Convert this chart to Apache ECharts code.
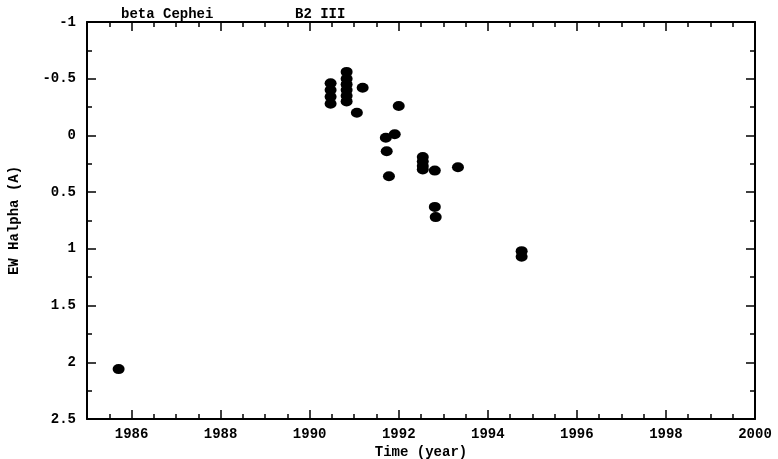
<!DOCTYPE html>
<html>
<head>
<meta charset="utf-8">
<script src="https://cdn.jsdelivr.net/npm/echarts@6/dist/echarts.min.js"></script>
<style>
  html, body { margin: 0; padding: 0; background: #fff; }
  #chart { width: 778px; height: 459px; }
</style>
</head>
<body>
<div id="chart"></div>
<script>
// observation epochs (year) and Halpha equivalent width (A)
const years = [
  1985.71,
  1990.47, 1990.47, 1990.47, 1990.47,
  1990.83, 1990.83, 1990.83, 1990.83, 1990.83, 1990.83,
  1991.06, 1991.19,
  1991.71, 1991.91, 1991.73, 1991.78, 1992.0,
  1992.54, 1992.54, 1992.54, 1992.54,
  1992.81, 1993.33, 1992.81, 1992.83,
  1994.76, 1994.76,
]
const ewHalpha = [
  2.06,
  -0.46, -0.40, -0.34, -0.28,
  -0.56, -0.50, -0.45, -0.40, -0.35, -0.30,
  -0.20, -0.42,
  0.02, -0.01, 0.14, 0.36, -0.26,
  0.19, 0.23, 0.27, 0.30,
  0.31, 0.28, 0.63, 0.72,
  1.02, 1.07,
]
const yearLabels = [1986, 1988, 1990, 1992, 1994, 1996, 1998, 2000]

const font = 'Liberation Mono'
const points = years.map((y, i) => [y, ewHalpha[i]])

const xBase = {
  type: 'value', min: 1985, max: 2000, interval: 0.5,
  splitLine: { show: false },
  axisLine: { onZero: false, lineStyle: { color: '#000', width: 2 } },
}
const yBase = {
  type: 'value', min: -1, max: 2.5, inverse: true,
  splitLine: { show: false },
  axisLine: { onZero: false, lineStyle: { color: '#000', width: 2 } },
}
const noLine = { show: false, onZero: false }
const txt = { fontFamily: font, fontSize: 14, fontWeight: 'bold', color: '#000' }

const option = {
  animation: false,
  backgroundColor: '#fff',
  title: [
    { text: 'beta Cephei', left: 116, top: 2, textStyle: txt },
    { text: 'B2 III', left: 290, top: 2, textStyle: txt },
  ],
  grid: { left: 87, right: 23, top: 22, bottom: 40, containLabel: false, outerBoundsMode: 'none' },
  xAxis: [
    {
      ...xBase, position: 'bottom',
      name: 'Time (year)', nameLocation: 'middle', nameGap: 25,
      nameTextStyle: txt,
      axisTick: { inside: true, length: 5, lineStyle: { color: '#000', width: 1.5 } },
      axisLabel: {
        margin: 8, ...txt,
        formatter: v => (yearLabels.includes(v) ? String(v) : ''),
      },
    },
    {
      ...xBase, position: 'bottom',
      axisLine: noLine,
      axisTick: { inside: true, length: 9, customValues: yearLabels, lineStyle: { color: '#000', width: 1.5 } },
      axisLabel: { show: false },
    },
    {
      ...xBase, position: 'top',
      axisTick: { inside: true, length: 5, lineStyle: { color: '#000', width: 1.5 } },
      axisLabel: { show: false },
    },
    {
      ...xBase, position: 'top',
      axisLine: noLine,
      axisTick: { inside: true, length: 9, customValues: yearLabels, lineStyle: { color: '#000', width: 1.5 } },
      axisLabel: { show: false },
    },
  ],
  yAxis: [
    {
      ...yBase, position: 'left', interval: 0.25,
      name: 'EW Halpha (A)', nameLocation: 'middle', nameGap: 66, nameRotate: 90,
      nameTextStyle: txt,
      axisTick: { inside: true, length: 5, lineStyle: { color: '#000', width: 1.5 } },
      axisLabel: {
        margin: 11, ...txt,
        formatter: v => (Math.abs(v * 2 - Math.round(v * 2)) < 1e-9 ? String(v) : ''),
      },
    },
    {
      ...yBase, position: 'left', interval: 0.5,
      axisLine: noLine,
      axisTick: { inside: true, length: 9, lineStyle: { color: '#000', width: 1.5 } },
      axisLabel: { show: false },
    },
    {
      ...yBase, position: 'right', interval: 0.25,
      axisTick: { inside: true, length: 5, lineStyle: { color: '#000', width: 1.5 } },
      axisLabel: { show: false },
    },
    {
      ...yBase, position: 'right', interval: 0.5,
      axisLine: noLine,
      axisTick: { inside: true, length: 9, lineStyle: { color: '#000', width: 1.5 } },
      axisLabel: { show: false },
    },
  ],
  series: [
    {
      type: 'scatter',
      data: points,
      symbol: 'circle',
      symbolSize: [12, 10],
      itemStyle: { color: '#000', opacity: 1 },
    },
  ],
}

const myChart = echarts.init(document.getElementById('chart'), null, { renderer: 'canvas' })
myChart.setOption(option)
</script>
</body>
</html>
